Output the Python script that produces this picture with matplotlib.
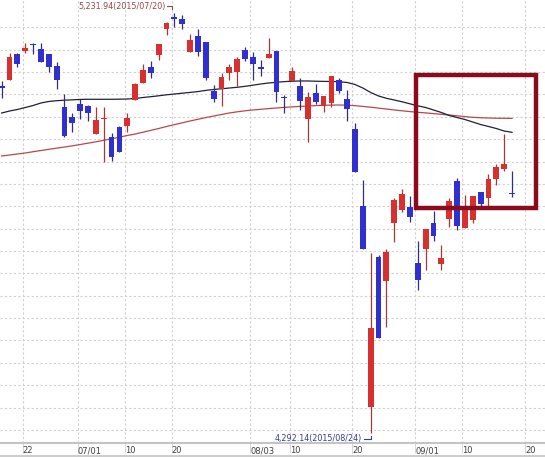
import numpy as np
import matplotlib
matplotlib.use("Agg")
import matplotlib.pyplot as plt
import matplotlib.transforms as mtransforms
from matplotlib.lines import Line2D
from matplotlib.patches import Rectangle

# NASDAQ daily candles, 2015/06/17 - 2015/09/18
dates = ["06/17", "06/18", "06/19", "06/22", "06/23", "06/24", "06/25", "06/26", "06/29", "06/30",
         "07/01", "07/02", "07/06", "07/07", "07/08", "07/09", "07/10",
         "07/13", "07/14", "07/15", "07/16", "07/17", "07/20", "07/21", "07/22", "07/23", "07/24",
         "07/27", "07/28", "07/29", "07/30", "07/31",
         "08/03", "08/04", "08/05", "08/06", "08/07", "08/10", "08/11", "08/12", "08/13", "08/14",
         "08/17", "08/18", "08/19", "08/20", "08/21", "08/24", "08/25", "08/26", "08/27", "08/28", "08/31",
         "09/01", "09/02", "09/03", "09/04", "09/08", "09/09", "09/10", "09/11",
         "09/14", "09/15", "09/16", "09/17", "09/18"]

opens = [5067.7, 5081.5, 5140.3, 5147.7, 5163.3, 5151.5, 5140.3, 5114.2, 5022.5, 5000.2,
         5028.6, 5024.1, 4962.2, 4994.4, 4954.1, 4976.5, 4979.4,
         5037.5, 5076.2, 5111.9, 5138.1, 5196.2, 5223.0, 5218.5, 5145.5, 5180.5, 5166.5,
         5058.3, 5062.1, 5098.5, 5100.8, 5149.3,
         5134.3, 5111.3, 5132.0, 5147.0, 5044.2, 5080.6, 5068.8, 4994.4, 5052.5, 5024.8,
         5031.5, 5082.2, 5039.1, 4972.7, 4800.6, 4352.0, 4687.3, 4633.6, 4761.9, 4791.6, 4799.0,
         4673.9, 4704.5, 4761.9, 4670.9, 4770.9, 4856.5, 4750.7, 4769.3,
         4831.2, 4819.1, 4860.9, 4883.3, 4829.6]
highs = [5080.0, 5143.2, 5142.5, 5164.2, 5165.6, 5165.6, 5140.3, 5121.8, 5050.2, 5009.1,
         5039.1, 5025.7, 5021.2, 5022.0, 4964.4, 4979.4, 5007.8,
         5076.2, 5118.0, 5124.7, 5162.7, 5212.5, 5231.94, 5227.5, 5185.0, 5195.5, 5166.5,
         5071.0, 5098.5, 5117.9, 5134.3, 5156.6,
         5144.1, 5126.9, 5175.4, 5147.0, 5048.7, 5111.9, 5087.4, 5056.0, 5072.6, 5047.1,
         5091.8, 5086.0, 5059.9, 4985.4, 4858.7, 4694.9, 4691.1, 4703.8, 4817.8, 4837.9, 4823.6,
         4721.7, 4749.8, 4790.1, 4713.4, 4817.8, 4863.8, 4825.2, 4822.9,
         4831.2, 4872.1, 4894.5, 4961.5, 4878.8]
lows = [5042.6, 5081.5, 5111.9, 5141.9, 5139.7, 5121.8, 5100.8, 5061.4, 4955.5, 4966.7,
        4994.4, 4991.2, 4960.8, 4899.6, 4901.2, 4921.9, 4966.7,
        5037.5, 5076.2, 5087.3, 5126.9, 5182.8, 5201.3, 5196.2, 5145.5, 5136.5, 5082.2,
        5032.4, 5024.1, 5082.2, 5068.8, 5125.3,
        5082.2, 5091.1, 5132.0, 5033.7, 5007.8, 5080.6, 5015.2, 4944.3, 5028.6, 5011.3,
        5021.2, 5053.8, 4991.2, 4877.3, 4705.1, 4292.14, 4506.2, 4530.8, 4720.8, 4787.8, 4764.2,
        4613.5, 4658.2, 4722.4, 4657.5, 4754.3, 4746.9, 4750.7, 4761.9,
        4801.3, 4801.3, 4847.5, 4879.5, 4820.0]
closes = [5065.4, 5133.6, 5117.3, 5153.1, 5160.4, 5121.8, 5111.9, 5081.5, 4957.7, 4986.8,
          5013.6, 5009.1, 4992.8, 4997.9, 4910.8, 4921.9, 4997.9,
          5072.6, 5104.6, 5098.5, 5162.7, 5210.3, 5219.0, 5207.4, 5171.6, 5145.5, 5087.4,
          5039.7, 5088.3, 5111.9, 5128.5, 5128.5,
          5117.3, 5106.1, 5140.3, 5056.0, 5042.0, 5102.3, 5035.3, 5043.5, 5033.7, 5047.1,
          5091.8, 5058.3, 5017.4, 4877.3, 4705.1, 4527.2, 4506.2, 4698.4, 4814.0, 4827.4, 4776.7,
          4635.9, 4749.8, 4733.5, 4684.3, 4811.8, 4756.6, 4795.4, 4822.9,
          4805.0, 4860.9, 4888.4, 4893.8, 4827.4]

ma_short = [5008.4, 5012.9, 5016.3, 5020.7, 5025.2, 5030.8, 5034.2, 5035.9, 5037.1, 5037.9,
            5038.8, 5039.1, 5039.1, 5039.1, 5039.1, 5039.3, 5039.7, 5040.9, 5043.1, 5044.9,
            5046.9, 5049.1, 5050.9, 5052.7, 5054.5, 5056.3, 5059.0, 5061.0, 5062.6, 5064.3,
            5065.9, 5068.1, 5070.6, 5073.3, 5075.5, 5077.1, 5078.6, 5079.5, 5080.0, 5080.0,
            5079.5, 5079.1, 5078.9, 5078.4, 5076.6, 5072.2, 5064.3, 5054.3, 5046.5, 5041.3,
            5037.5, 5033.5, 5029.0, 5024.5, 5020.7, 5015.2, 5009.6, 5002.9, 4998.4, 4993.9,
            4988.3, 4982.7, 4978.3, 4973.8, 4968.2, 4965.3]
ma_long = [4912.3, 4914.5, 4916.8, 4919.0, 4921.9, 4924.6, 4927.3, 4929.8, 4932.4, 4935.1,
           4938.0, 4941.0, 4944.1, 4947.4, 4950.8, 4954.4, 4958.2, 4961.5, 4965.5, 4969.6,
           4973.8, 4978.3, 4982.5, 4986.5, 4990.6, 4994.4, 4998.2, 5001.7, 5005.1, 5008.5,
           5011.1, 5013.4, 5015.2, 5016.7, 5018.3, 5019.6, 5021.0, 5022.1, 5023.2, 5024.1,
           5025.0, 5025.7, 5026.1, 5026.3, 5025.9, 5024.8, 5023.2, 5021.4, 5019.4, 5017.4,
           5015.2, 5013.4, 5011.6, 5010.0, 5008.7, 5007.1, 5005.5, 5004.0, 5002.2, 5000.4,
           4998.8, 4997.9, 4997.3, 4996.8, 4996.6, 4996.4]

tick_dates = ["06/22", "07/01", "07/10", "07/20", "08/03", "08/10", "08/20", "09/01", "09/10"]
tick_labels = ["22", "07/01", "10", "20", "08/03", "10", "20", "09/01", "10", "20"]

narrow = ["Liberation Sans Narrow", "DejaVu Sans"]

x = np.arange(len(dates))
o = np.array(opens); h = np.array(highs); l = np.array(lows); c = np.array(closes)
up = c > o

fig = plt.figure(figsize=(5.45, 4.57), dpi=100)
ax = fig.add_axes([0, 14 / 457, 1, 443 / 457])
ax.set_xlim(-0.21, 69.2)
ax.set_ylim(4270.9, 5261.0)

# grid
for lv in np.arange(4300, 5201, 50):
    ax.axhline(lv, color="#d0d0d0", lw=0.8, dashes=(2, 2), zorder=0)
tpos = [dates.index(d) - 0.32 for d in tick_dates] + [len(dates) + 1 - 0.32]
for tp in tpos:
    ax.axvline(tp, color="#d0d0d0", lw=0.8, dashes=(2, 2), zorder=0)

# moving averages
ax.plot(x, ma_long, color="#b84848", lw=0.9, zorder=2)
ax.plot(x, ma_short, color="#20203a", lw=0.9, zorder=2)

# candles
red, blue = "#d8302f", "#3030d0"
wick_cols = np.where(up, "#a23a3a", "#30307a")
ax.vlines(x, l, h, colors=wick_cols, lw=0.9, zorder=3)
bottoms = np.minimum(o, c)
heights = np.maximum(np.abs(c - o), 1.6)
ax.bar(x, heights, bottom=bottoms, width=0.74, color=np.where(up, red, blue),
       edgecolor="none", zorder=4)

# highlight box
ax.add_patch(Rectangle((52.78, 4796.1), 68.0 - 52.78, 5094.0 - 4796.1, fill=False,
                       edgecolor="#8a0c1c", lw=3.2, zorder=6))

# ticks / frame
ax.set_yticks([])
ax.set_xticks(tpos)
ax.set_xticklabels(tick_labels, fontsize=6, family=narrow, color="#404040")
off = mtransforms.ScaledTranslation(2 / 100, 0, fig.dpi_scale_trans)
for lbl in ax.get_xticklabels():
    lbl.set_ha("left")
    lbl.set_transform(lbl.get_transform() + off)
ax.tick_params(axis="x", length=7, width=0.6, color="#d0d0d0", pad=-4.5)
for s in ["top", "left", "right"]:
    ax.spines[s].set_visible(False)
ax.spines["bottom"].set_color("#c4c4c4")
ax.spines["bottom"].set_linewidth(1.5)
fig.add_artist(Line2D([0, 1], [1.2 / 457, 1.2 / 457], transform=fig.transFigure,
                      color="#c4c4c4", lw=1.2))

# high / low annotations
ih = int(np.argmax(h)); il = int(np.argmin(l))
hx, hy = ax.transData.transform((ih, h[ih]))
ax.text(hx - 8.3, hy + 6.3, f"{h[ih]:,.2f}(2015/{dates[ih]})", transform=None,
        ha="right", va="center", fontsize=5.8, family=narrow, color="#9a4646")
ax.add_line(Line2D([hx - 7.4, hx - 2.4, hx - 2.4], [hy + 7.3, hy + 7.3, hy + 4.4],
                   transform=None, color="#9a4646", lw=0.8))
lx, ly = ax.transData.transform((il, l[il]))
ax.text(lx - 8.6, ly - 4.8, f"{l[il]:,.2f}(2015/{dates[il]})", transform=None,
        ha="right", va="center", fontsize=5.8, family=narrow, color="#38389a")
ax.add_line(Line2D([lx - 6.6, lx + 0.4, lx + 0.4], [ly - 5.5, ly - 5.5, ly - 2.4],
                   transform=None, color="#38389a", lw=0.8))

fig.savefig("out.png", dpi=100)
